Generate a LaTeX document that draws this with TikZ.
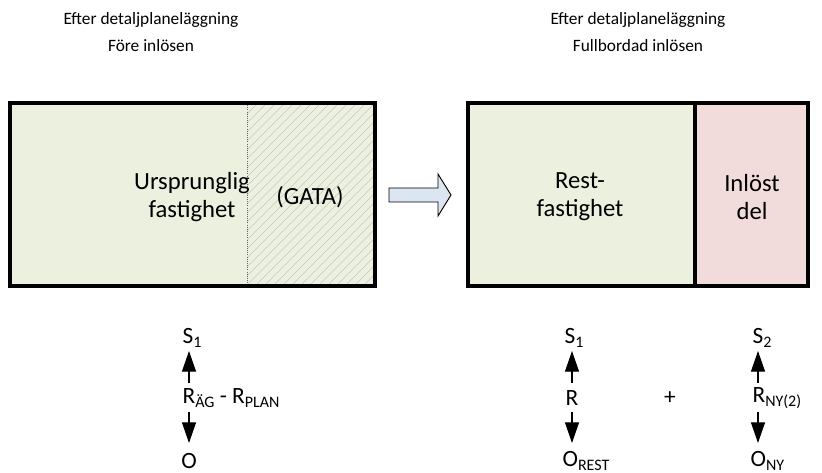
\documentclass[tikz,border=0pt]{standalone}
\usepackage{fontspec}
\setmainfont{Carlito}
\usetikzlibrary{arrows.meta}
\definecolor{lotgreen}{HTML}{EBF1DE}
\definecolor{lotpink}{HTML}{F2DCDB}
\definecolor{arrowblue}{HTML}{DCE6F2}
\newcommand{\lowsub}[1]{\raisebox{-0.4ex}{\fontsize{12}{14}\selectfont #1}}
\tikzset{
  title/.style={font=\fontsize{13}{20}\selectfont, align=center},
  boxtext/.style={font=\fontsize{18.5}{21}\selectfont, align=center},
  sym/.style={font=\fontsize{17.5}{19}\selectfont, inner sep=1pt},
  lotframe/.style={line width=2.4pt},
  valarrow/.style={line width=0.9pt, -{Triangle[length=15.5pt,width=10.5pt]}}
}
\begin{document}
\begin{tikzpicture}[x=0.75pt,y=-0.75pt]
\useasboundingbox (0,0) rectangle (822,473);

% titles
\node[title] (t1) at (151,32) {Efter detaljplaneläggning\\Före inlösen};
\node[title] (t2) at (638,32) {Efter detaljplaneläggning\\Fullbordad inlösen};

% left lot: original property with street part
\fill[lotgreen] (10,103) rectangle (375,286);
\begin{scope}
  \clip (247,103) rectangle (375,286);
  \foreach \k in {0,...,34} {
    \draw[black!22, line width=0.35pt] (247+\k*9-190,286) -- ++(190,-190);
  }
\end{scope}
\draw[black!60, densely dotted, line width=0.6pt] (247,103) -- (247,286);
\draw[lotframe] (10,103) rectangle (375,286);
\node[boxtext] (orig) at (192,197) {Ursprunglig\\fastighet};
\node[boxtext] (gata) at (310,197) {(GATA)};

% block arrow between the two states
\draw[line width=0.7pt, fill=arrowblue]
  (389,188) -- (438,188) -- (438,174) -- (451,195) -- (438,216) -- (438,202) -- (389,202) -- cycle;

% right lot: remaining property and acquired part
\fill[lotgreen] (468,103) rectangle (695,286);
\fill[lotpink] (695,103) rectangle (808,286);
\draw[line width=2.4pt] (695,103) -- (695,286);
\draw[lotframe] (468,103) rectangle (808,286);
\node[boxtext] (rest) at (580,197) {Rest-\\fastighet};
\node[boxtext] (inl) at (752,197) {Inlöst\\del};

% value relations below the left lot
\node[sym, anchor=west] (r1) at (181,398) {R\lowsub{ÄG} - R\lowsub{PLAN}};
\node[sym, anchor=west] (s1a) at (181,338) {S\lowsub{1}};
\node[sym] (o1) at (189,461) {O};
\coordinate (r1up) at (189,383);
\coordinate (r1dn) at (189,412);
\draw[valarrow] (r1up) -- (189,351);
\draw[valarrow] (r1dn) -- (189,443);

% value relations below the right lot
\node[sym] (r2) at (572,398) {R};
\node[sym, anchor=west] (s1b) at (563,338) {S\lowsub{1}};
\node[sym, anchor=west] (o2) at (561,461) {O\lowsub{REST}};
\coordinate (r2up) at (572,383);
\coordinate (r2dn) at (572,412);
\draw[valarrow] (r2up) -- (572,351);
\draw[valarrow] (r2dn) -- (572,443);

\node[sym] (plus) at (670,398) {+};

\node[sym, anchor=west] (r3) at (751,398) {R\lowsub{NY(2)}};
\node[sym, anchor=west] (s2) at (751,338) {S\lowsub{2}};
\node[sym, anchor=west] (o3) at (749,461) {O\lowsub{NY}};
\coordinate (r3up) at (758,383);
\coordinate (r3dn) at (758,412);
\draw[valarrow] (r3up) -- (758,351);
\draw[valarrow] (r3dn) -- (758,443);
\end{tikzpicture}
\end{document}
